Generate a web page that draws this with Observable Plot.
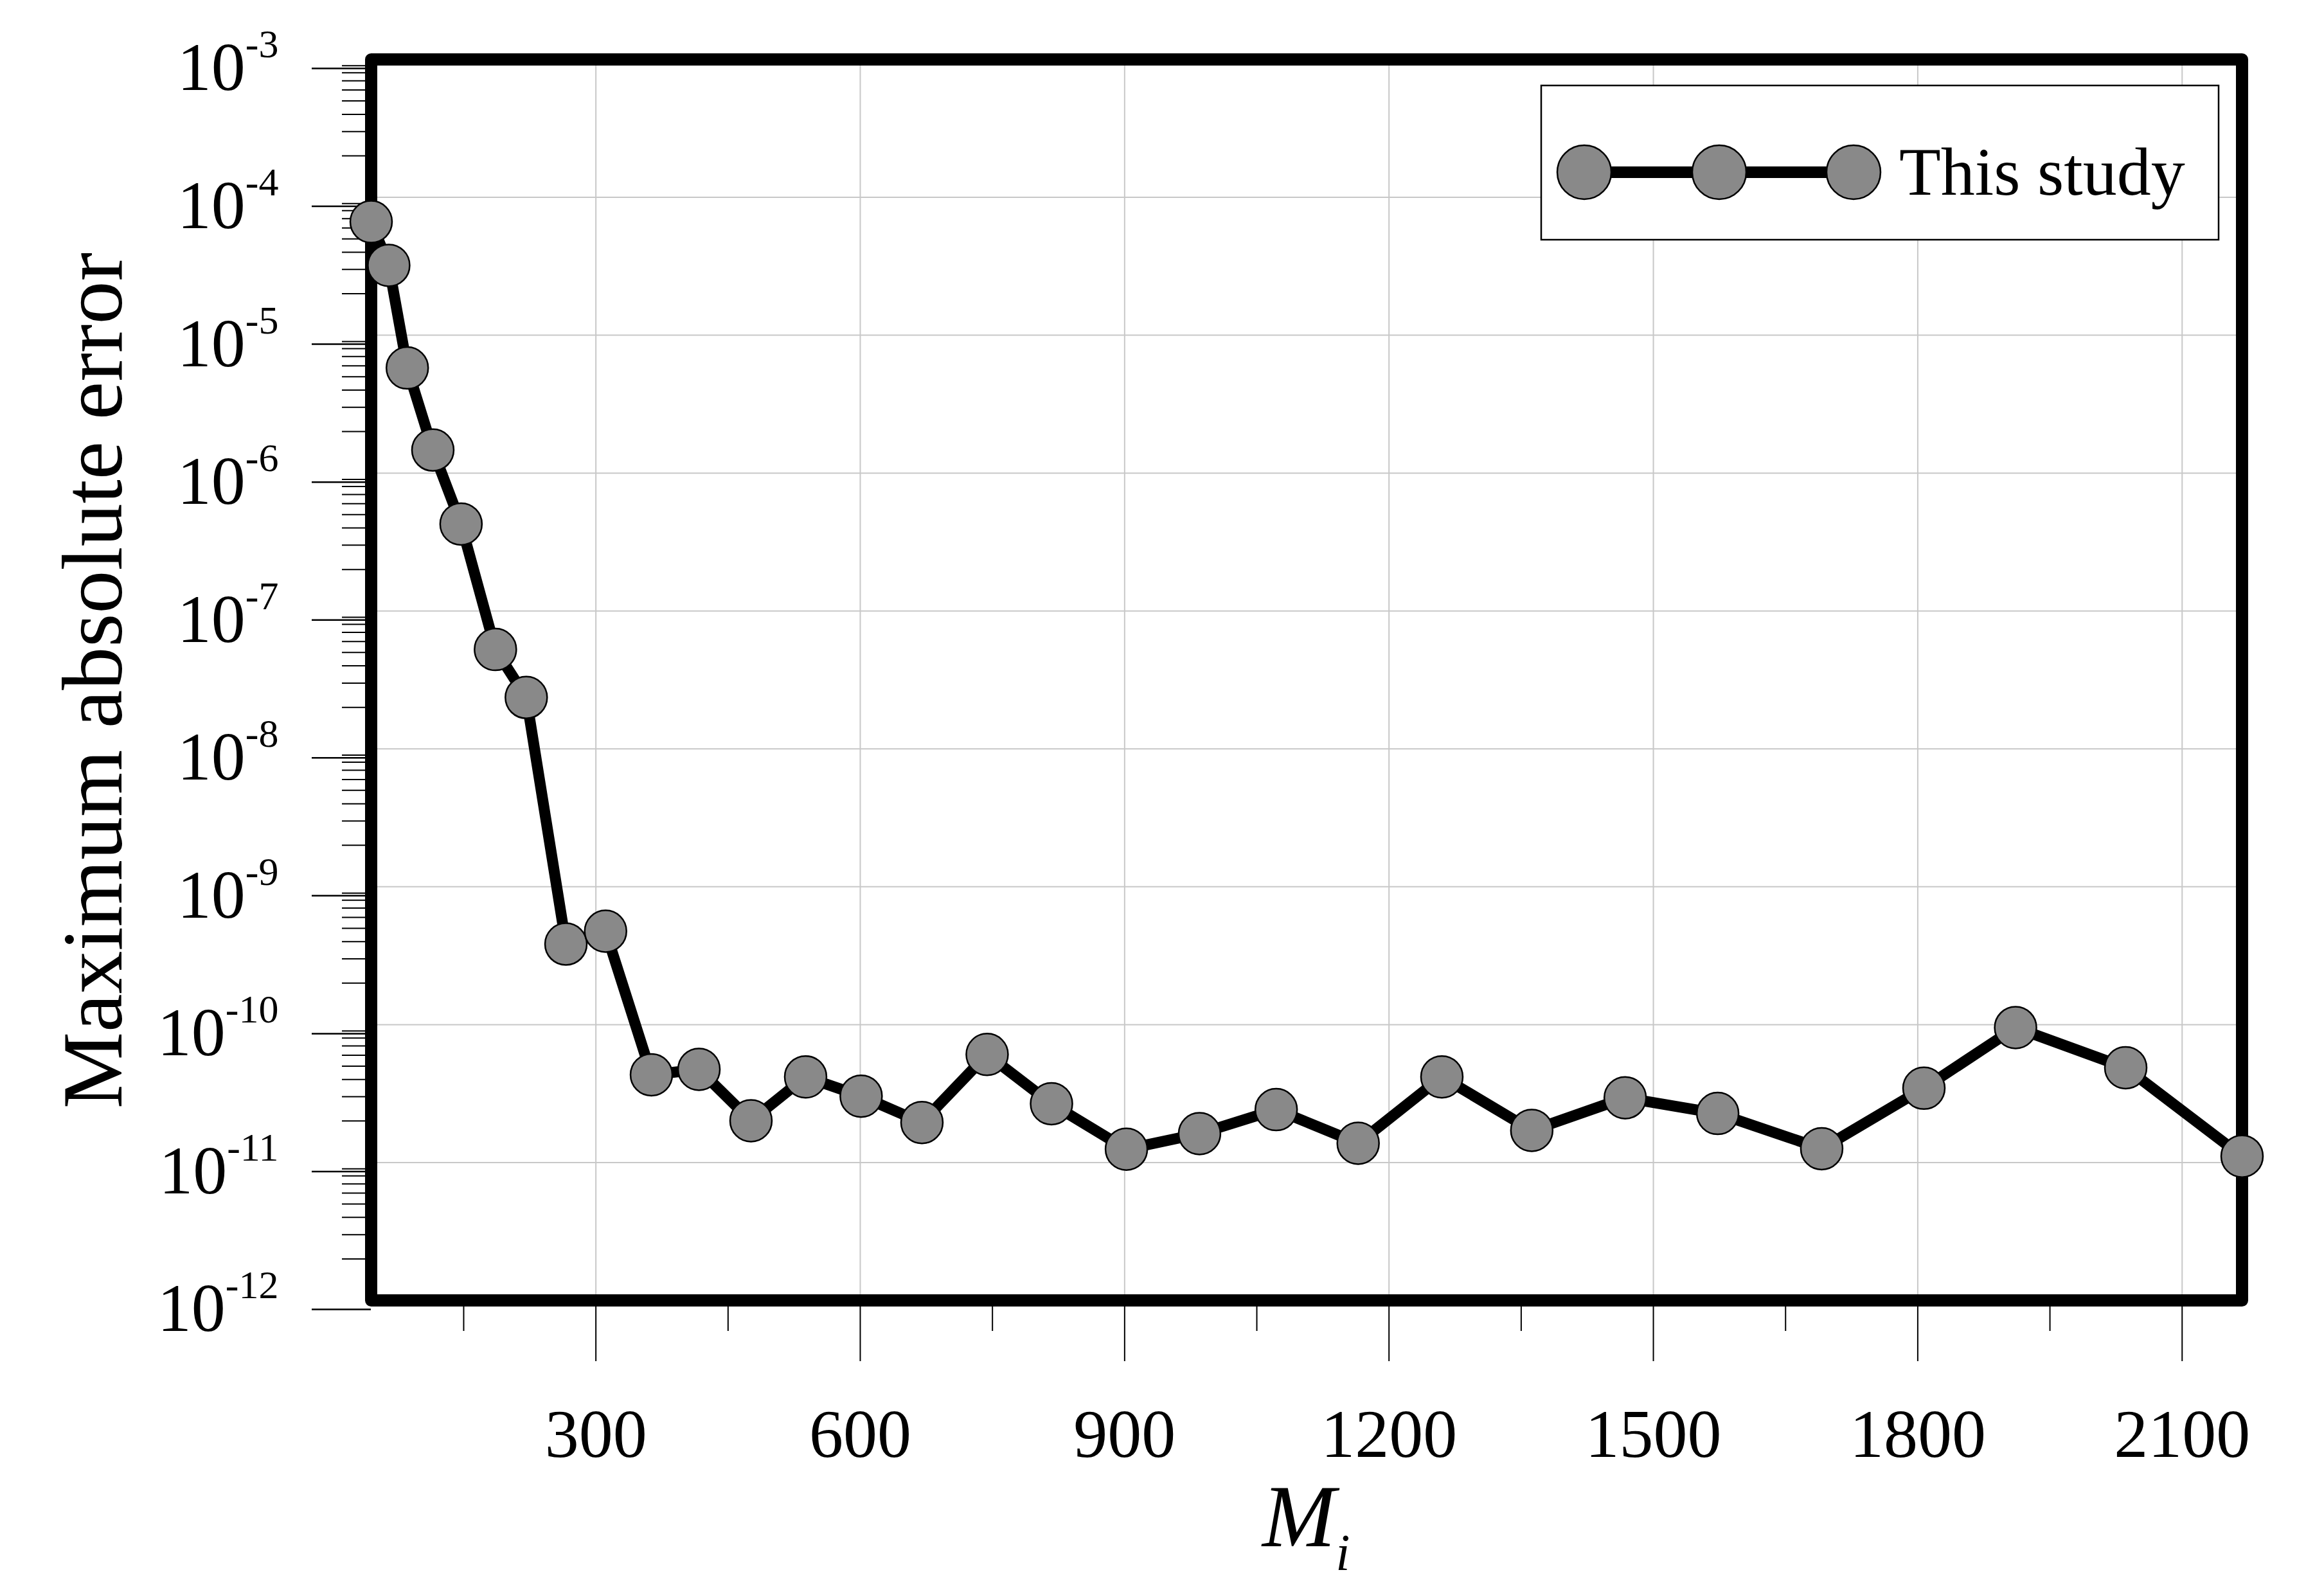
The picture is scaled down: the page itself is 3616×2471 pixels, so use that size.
<!DOCTYPE html>
<html>
<head>
<meta charset="utf-8">
<script src="https://cdn.jsdelivr.net/npm/d3@7"></script>
<script src="https://cdn.jsdelivr.net/npm/@observablehq/plot@0.6"></script>
<style>
  html, body { margin: 0; padding: 0; background: #fff; }
  #chart { position: relative; width: 3616px; height: 2471px; }
</style>
</head>
<body>
<div id="chart"></div>
<script>
// ---- data ----
const M = [45, 65, 86, 115, 147, 186, 221, 266, 311, 363, 417, 476, 538, 601, 670,
           744, 817, 902, 985, 1072, 1165, 1260, 1362, 1468, 1573, 1691, 1807, 1911, 2036, 2168];
const maxErr = [6.65e-5, 3.21e-5, 5.79e-6, 1.47e-6, 4.27e-7, 5.26e-8, 2.36e-8, 3.84e-10, 4.76e-10, 4.33e-11,
                4.74e-11, 2.01e-11, 4.18e-11, 3.03e-11, 1.95e-11, 6.08e-11, 2.67e-11, 1.25e-11, 1.62e-11, 2.42e-11,
                1.38e-11, 4.18e-11, 1.71e-11, 2.95e-11, 2.27e-11, 1.26e-11, 3.46e-11, 9.52e-11, 4.87e-11, 1.11e-11];
const seriesName = "This study";
const xMajorTicks = [300, 600, 900, 1200, 1500, 1800, 2100];
const xMinorTicks = [150, 450, 750, 1050, 1350, 1650, 1950];
const yExponents = [-3, -4, -5, -6, -7, -8, -9, -10, -11, -12];
const yMinorMultipliers = [2, 3, 4, 5, 6, 7, 8, 9];
const xTitle = "M";
const xTitleSub = "i";
const yTitle = "Maximum absolute error";

// ---- build table ----
const data = M.map((m, i) => ({M: m, err: maxErr[i]}));
const yMajorTicks = yExponents.map(e => Math.pow(10, e));
const yMinorTicks = [];
for (let e = -12; e < -3; e++) for (const k of yMinorMultipliers) yMinorTicks.push(k * Math.pow(10, e));

const W = 3616, H = 2471;
const mL = 577, mR = 128, mT = 92, mB = 448;
const font = "'Liberation Serif', 'Times New Roman', serif";

const plot = Plot.plot({
  width: W,
  height: H,
  marginLeft: mL,
  marginRight: mR,
  marginTop: mT,
  marginBottom: mB,
  style: {fontFamily: font, background: "white", color: "black", overflow: "visible"},
  x: {domain: d3.extent(M)},
  y: {type: "log", domain: [1e-12, 1e-3]},
  marks: [
    Plot.gridX({ticks: xMajorTicks, stroke: "#c8c8c8", strokeOpacity: 1, strokeWidth: 2}),
    Plot.gridY({ticks: yMajorTicks, stroke: "#c8c8c8", strokeOpacity: 1, strokeWidth: 2}),
    Plot.axisX({ticks: xMinorTicks, tickSize: 48, strokeWidth: 2, tickFormat: () => "", label: null}),
    Plot.axisX({ticks: xMajorTicks, tickSize: 95, tickPadding: 73, strokeWidth: 2,
                fontSize: 106, tickFormat: d => String(d), label: null}),
    Plot.axisY({ticks: yMinorTicks, tickSize: 45, strokeWidth: 2, tickFormat: () => "", label: null}),
    Plot.axisY({ticks: yMajorTicks, tickSize: 92, tickPadding: 52, strokeWidth: 2.5,
                fontSize: 106, dy: 14, textAnchor: "end",
                tickFormat: d => "10^" + Math.round(Math.log10(d)), label: null}),
    Plot.frame({stroke: "black", strokeWidth: 19, strokeLinejoin: "round"}),
    Plot.line(data, {x: "M", y: "err", stroke: "black", strokeWidth: 17, strokeLinejoin: "round"}),
    Plot.dot(data, {x: "M", y: "err", r: 32.5, fill: "#898989", stroke: "black", strokeWidth: 2.5})
  ]
});

document.getElementById("chart").appendChild(plot);

// superscripts on y tick labels
plot.querySelectorAll('g[aria-label="y-axis tick label"] text').forEach(t => {
  const s = t.textContent;
  if (!s.includes("^")) return;
  const [base, exp] = s.split("^");
  while (t.firstChild) t.removeChild(t.firstChild);
  t.appendChild(document.createTextNode(base));
  const sup = document.createElementNS("http://www.w3.org/2000/svg", "tspan");
  sup.setAttribute("font-size", "62");
  sup.setAttribute("dy", "-51");
  sup.textContent = "-" + exp.replace("-", "").replace("\u2212", "");
  t.appendChild(sup);
});

// axis titles and legend (layout text)
const svg = d3.select(plot);
const ns = svg.append("g").attr("font-family", font).attr("fill", "black").attr("text-anchor", "start");

ns.append("text")
  .attr("transform", "translate(189,1059) rotate(-90)")
  .attr("text-anchor", "middle")
  .attr("font-size", 134)
  .text(yTitle);

const xt = ns.append("text")
  .attr("x", 1964).attr("y", 2406)
  .attr("text-anchor", "start")
  .attr("font-size", 137)
  .attr("font-style", "italic");
xt.append("tspan").text(xTitle);
xt.append("tspan").attr("font-size", 80).attr("dy", 37).text(xTitleSub);

// legend
const lg = ns.append("g");
lg.append("rect").attr("x", 2398).attr("y", 133).attr("width", 1054).attr("height", 240)
  .attr("fill", "white").attr("stroke", "black").attr("stroke-width", 2.5);
lg.append("line").attr("x1", 2465).attr("x2", 2884).attr("y1", 268).attr("y2", 268)
  .attr("stroke", "black").attr("stroke-width", 18);
[2465, 2675, 2884].forEach(cx => {
  lg.append("circle").attr("cx", cx).attr("cy", 268).attr("r", 42)
    .attr("fill", "#898989").attr("stroke", "black").attr("stroke-width", 2.5);
});
lg.append("text").attr("x", 2955).attr("y", 303).attr("text-anchor", "start")
  .attr("font-size", 106).text(seriesName);
</script>
</body>
</html>
